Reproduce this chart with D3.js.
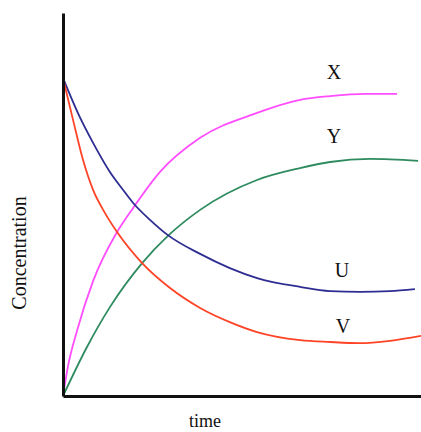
<!DOCTYPE html>
<html>
<head>
<meta charset="utf-8">
<script src="https://cdn.jsdelivr.net/npm/d3@7"></script>
<style>
  body { margin: 0; background: #fff; }
  text { font-family: "Liberation Serif", serif; fill: #111; }
</style>
</head>
<body>
<div id="chart"></div>
<script>
// readings: [time, concentration]
var seriesX = [[0, 0], [0.14, 0.78], [0.39, 1.70], [0.84, 3.00], [1.51, 4.28], [1.96, 4.91],
  [2.71, 5.85], [3.83, 6.74], [5.42, 7.39], [6.62, 7.73], [7.46, 7.83], [8.44, 7.89], [9.33, 7.89]];
var seriesY = [[0, 0], [0.67, 1.28], [1.31, 2.32], [2.21, 3.47], [2.93, 4.18], [3.83, 4.86],
  [5.42, 5.64], [6.62, 5.95], [7.46, 6.11], [8.58, 6.19], [9.92, 6.14]];
var seriesU = [[0, 8.30], [0.47, 7.28], [0.84, 6.61], [1.31, 5.85], [1.68, 5.38], [1.96, 5.04],
  [2.43, 4.60], [2.93, 4.20], [3.83, 3.71], [4.66, 3.34], [5.42, 3.08], [6.62, 2.85],
  [7.46, 2.74], [8.30, 2.72], [9.13, 2.74], [9.83, 2.79]];
var seriesV = [[0, 8.30], [0.28, 7.21], [0.56, 6.16], [0.84, 5.38], [1.17, 4.78], [1.51, 4.28],
  [2.21, 3.47], [2.99, 2.82], [3.83, 2.30], [4.66, 1.93], [5.42, 1.67], [6.62, 1.46],
  [7.46, 1.41], [8.30, 1.38], [9.13, 1.44], [10, 1.57]];
var names = ["X", "Y", "U", "V"];
var labelPos = [[7.57, 8.28], [7.57, 6.61], [7.79, 3.11], [7.82, 1.64]];

var width = 421, height = 432;
var svg = d3.select("#chart").append("svg")
  .attr("width", width)
  .attr("height", height);

var scX = d3.scaleLinear().domain([0, 10]).range([63, 421]);
var scY = d3.scaleLinear().domain([0, 10]).range([396, 13]);

var colors = ["#ff4dff", "#2e8b5f", "#2d2d92", "#ff4326"];
var allSeries = [seriesX, seriesY, seriesU, seriesV];

var line = d3.line()
  .x(d => scX(d[0]))
  .y(d => scY(d[1]))
  .curve(d3.curveMonotoneX);

svg.append("g")
  .selectAll("path")
  .data(allSeries)
  .enter()
  .append("path")
  .attr("d", line)
  .attr("fill", "none")
  .attr("stroke", (d, i) => colors[i])
  .attr("stroke-width", 1.8);

// axes: plain lines, no ticks
svg.append("g")
  .attr("transform", `translate(0, ${scY(0)})`)
  .call(d3.axisBottom(scX).ticks(0).tickSizeOuter(0))
  .call(g => g.select(".domain").attr("stroke", "#111").attr("stroke-width", 3));
svg.append("g")
  .attr("transform", `translate(${scX(0)}, 0)`)
  .call(d3.axisLeft(scY).ticks(0).tickSizeOuter(0))
  .call(g => g.select(".domain").attr("stroke", "#111").attr("stroke-width", 3));

svg.append("g")
  .selectAll("text")
  .data(names)
  .enter()
  .append("text")
  .attr("x", (d, i) => scX(labelPos[i][0]))
  .attr("y", (d, i) => scY(labelPos[i][1]))
  .attr("text-anchor", "middle")
  .attr("font-size", 20)
  .text(d => d);

svg.append("text")
  .attr("x", 205)
  .attr("y", 427)
  .attr("text-anchor", "middle")
  .attr("font-size", 18)
  .text("time");

svg.append("text")
  .attr("transform", "translate(26, 253) rotate(-90)")
  .attr("text-anchor", "middle")
  .attr("font-size", 20)
  .text("Concentration");
</script>
</body>
</html>
